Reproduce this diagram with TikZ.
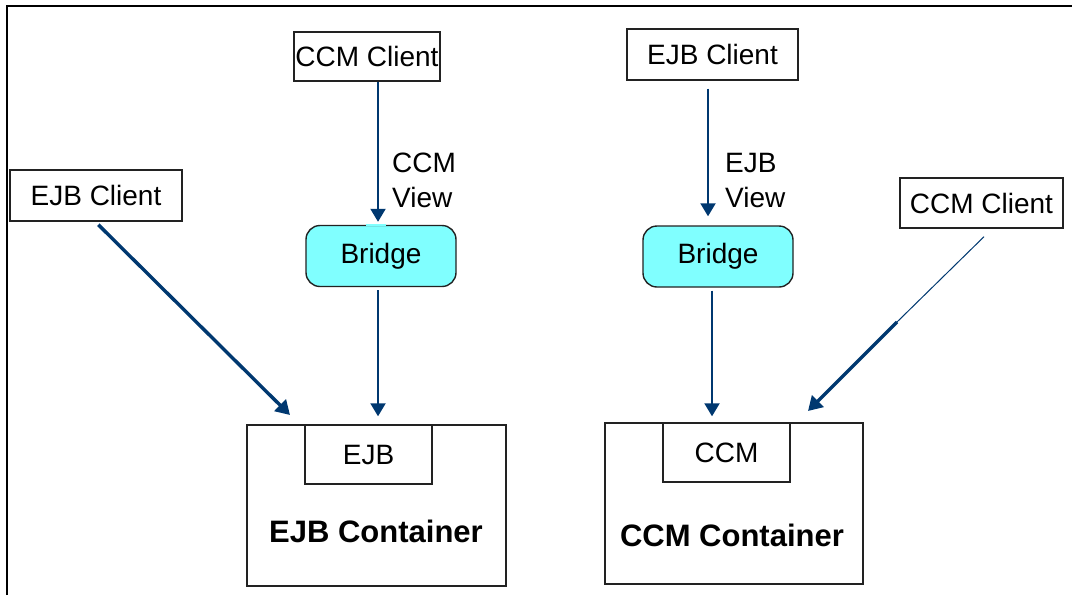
\documentclass[tikz,border=0pt]{standalone}
\usepackage{fontspec}
\setmainfont{Liberation Sans}
\usetikzlibrary{arrows.meta,calc}
\definecolor{arrowblue}{HTML}{003870}
\definecolor{bridgecyan}{HTML}{80FFFF}
\definecolor{boxline}{HTML}{222222}

\begin{document}
\begin{tikzpicture}[x=1pt,y=-1pt,
  txt/.style={font=\fontsize{28}{35}\selectfont},
  boldtxt/.style={font=\fontsize{31}{36}\selectfont\bfseries},
  plainbox/.style={draw=boxline, line width=1.4pt, inner sep=0pt, txt},
  bridgebox/.style={plainbox, fill=bridgecyan, rounded corners=14pt,
    minimum width=150pt, minimum height=61pt},
  vlink/.style={draw=arrowblue, line width=2pt,
    -{Triangle[width=15pt,length=13pt]}},
  dlink/.style={draw=arrowblue, line width=3.4pt,
    -{Triangle[width=16pt,length=14pt]}},
  thinlink/.style={draw=arrowblue, line width=1pt},
  label/.style={txt, align=left, inner sep=0pt, anchor=north west}
]
\useasboundingbox (0,0) rectangle (1072,595);

% outer frame (left and top edges)
\draw[line width=2.4pt] (7,595) -- (7,6) -- (1072,6);

% containers with their inner components
\node[plainbox, minimum width=259pt, minimum height=161pt] (ejbcont) at (376.5,505.5) {};
\node[plainbox, minimum width=127pt, minimum height=59pt, txt] (ejb) at (368.5,454.5) {EJB};
\node[boldtxt] (ejbcontlabel) at (376,531) {EJB Container};

\node[plainbox, minimum width=258pt, minimum height=161pt] (ccmcont) at (734,503.5) {};
\node[plainbox, minimum width=127pt, minimum height=59pt, txt] (ccm) at (726.5,452.5) {CCM};
\node[boldtxt] (ccmcontlabel) at (732,535) {CCM Container};

% clients
\node[plainbox, minimum width=172pt, minimum height=51pt] (ejbclientL) at (96,195.5) {EJB Client};
\node[plainbox, minimum width=146pt, minimum height=49pt] (ccmclientT) at (367,56.5) {CCM Client};
\node[plainbox, minimum width=171pt, minimum height=51pt] (ejbclientT) at (712.5,54.5) {EJB Client};
\node[plainbox, minimum width=163pt, minimum height=50pt] (ccmclientR) at (981.5,203) {CCM Client};

% bridges
\node[bridgebox] (bridgeL) at (381,256) {Bridge};
\node[bridgebox] (bridgeR) at (718,256.5) {Bridge};
% opening in the left bridge outline where the link enters
\draw[bridgecyan, line width=2pt] ($(bridgeL.north)+(-15,0)$) -- ($(bridgeL.north)+(5,0)$);

% view labels
\node[label] (ccmview) at (392,153) {CCM\\View};
\node[label] (ejbview) at (725,153) {EJB\\View};

% vertical links through the bridges
\coordinate (lx) at (378,0);
\coordinate (rxa) at (708,0);
\coordinate (rxb) at (712,0);
\draw[vlink, shorten >=3pt] (ccmclientT.south -| lx) -- (bridgeL.north -| lx);
\draw[vlink, shorten <=3pt, shorten >=8pt] (bridgeL.south -| lx) -- (ejb.north -| lx);
\draw[vlink, shorten <=8pt, shorten >=9pt] (ejbclientT.south -| rxa) -- (bridgeR.north -| rxa);
\draw[vlink, shorten <=3pt, shorten >=6pt] (bridgeR.south -| rxb) -- (ccm.north -| rxb);

% direct links into the containers
\coordinate (ejbtip) at (290,415);
\coordinate (ccmbend) at (897,322);
\coordinate (ccmtip) at (808,411);
\draw[dlink] ($(ejbclientL.south west)+(89,3)$) -- (ejbtip);
\draw[thinlink] ($(ccmclientR.south)+(2.5,8)$) -- (ccmbend);
\draw[dlink] (ccmbend) -- (ccmtip);
\end{tikzpicture}
\end{document}
